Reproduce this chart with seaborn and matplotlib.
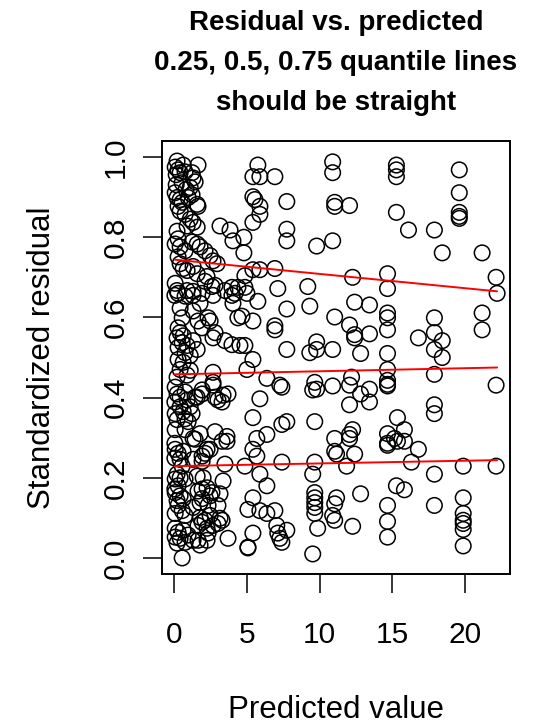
import numpy as np
import pandas as pd
import matplotlib
matplotlib.use("Agg")
import matplotlib.pyplot as plt
import seaborn as sns

# predicted value / standardized residual, read off the reference by region
# dense strip near zero, upper part
pred_a = [0.2, 0.07, 0.27, 0.41, 0.75, 1.23, 1.64, 1.3, 1.44, 1.1,
          0.07, 0.2, 0.41, 0.55, 0.27, 0.96, 1.58, 1.64, 1.23, 0.41,
          0.75, 1.1, 1.3, 1.58, 0.89, 0.2, 0.27, 0.07, 0.41, 0.75,
          1.23, 1.58, 1.78, 2.12, 2.47, 2.95, 0.27, 0.41, 0.62, 0.89,
          1.3, 1.58, 2.26, 2.12, 2.6, 0.07, 0.2, 0.89, 1.3, 0.62,
          0.14, 0.55, 0.14, 0.82,
          3.15, 3.84, 4.04, 4.79, 4.79, 2.67, 2.81, 3.97, 4.38, 4.86, 4.86]
res_a = [0.99, 0.975, 0.968, 0.961, 0.963, 0.961, 0.98, 0.948, 0.938, 0.924,
         0.911, 0.899, 0.894, 0.887, 0.877, 0.899, 0.882, 0.877, 0.906, 0.865,
         0.857, 0.845, 0.837, 0.825, 0.828, 0.815, 0.796, 0.783, 0.776, 0.766,
         0.788, 0.783, 0.776, 0.766, 0.754, 0.734, 0.751, 0.734, 0.722, 0.717,
         0.727, 0.709, 0.702, 0.69, 0.677, 0.685, 0.667, 0.667, 0.665, 0.98,
         0.956, 0.936, 0.931, 0.919,
         0.828, 0.818, 0.791, 0.8, 0.761, 0.741, 0.68, 0.675, 0.675, 0.675, 0.704]

# 4 < x < 11, upper half
pred_b = [5.75, 5.41, 5.89, 6.92, 5.41, 5.55, 5.89, 5.89, 5.41, 7.74,
          7.74, 7.74, 9.79, 10.89, 10.89, 10.89, 11.03, 11.03, 5.41, 5.89,
          6.92, 5.0, 5.75, 7.12, 9.18, 7.74, 9.32, 4.66, 5.41, 6.92,
          6.92, 11.03, 4.86, 7.74, 9.32, 9.79, 9.79, 10.89, 5.41]
res_b = [0.98, 0.951, 0.951, 0.951, 0.901, 0.894, 0.877, 0.857, 0.837, 0.889,
         0.82, 0.791, 0.778, 0.791, 0.988, 0.961, 0.887, 0.877, 0.719, 0.719,
         0.722, 0.66, 0.64, 0.672, 0.677, 0.621, 0.628, 0.603, 0.591, 0.579,
         0.569, 0.601, 0.53, 0.52, 0.512, 0.539, 0.52, 0.52, 0.495]

# 4 < x < 11, lower half
pred_c = [5.0, 6.37, 7.26, 7.4, 9.66, 9.79, 9.52, 10.89, 5.89, 5.41,
          7.4, 7.74, 9.66, 5.68, 6.37, 5.41, 5.68, 11.03, 11.03, 11.16,
          4.86, 7.4, 9.66, 9.52, 5.89, 6.37, 5.41, 5.07, 5.89, 6.37,
          6.92, 9.66, 9.66, 9.66, 9.66, 9.66, 7.05, 7.74, 5.41, 5.07,
          5.07, 7.26, 7.4, 9.86, 9.52]
res_c = [0.47, 0.448, 0.431, 0.426, 0.438, 0.421, 0.419, 0.429, 0.397, 0.35,
         0.333, 0.34, 0.34, 0.298, 0.308, 0.271, 0.254, 0.298, 0.266, 0.259,
         0.229, 0.239, 0.239, 0.209, 0.209, 0.18, 0.15, 0.121, 0.118, 0.111,
         0.118, 0.163, 0.15, 0.138, 0.126, 0.111, 0.081, 0.069, 0.062, 0.027,
         0.025, 0.049, 0.039, 0.074, 0.01]

# x > 11
pred_d = [12.05, 15.27, 15.27, 15.27, 19.59, 19.59, 19.59, 19.59, 19.59, 15.27,
          16.1, 17.88, 18.42, 21.16, 12.26, 14.66, 14.66, 22.12, 22.19,
          12.4, 13.42, 12.05, 14.66, 14.66, 14.66, 17.88, 21.16, 21.16, 12.4,
          12.4, 13.42, 16.78, 17.88, 18.42, 17.88, 18.42, 12.81, 14.66, 14.66,
          17.88, 12.19, 12.05, 14.66, 14.66, 14.66, 13.42, 12.81, 13.42, 12.05,
          22.12, 17.88, 17.88, 15.34, 12.26, 12.05, 14.66, 15.82,
          12.05, 12.4, 11.85, 14.66, 14.66, 15.34, 15.82, 15.14, 16.78, 16.3,
          17.88, 19.86, 22.12, 11.16, 11.03, 10.89, 11.03, 12.81, 12.26, 15.27,
          15.82, 14.66, 14.66, 14.66, 17.88, 19.86, 19.86, 19.86, 19.86, 19.86,
          19.86]
res_d = [0.879, 0.98, 0.968, 0.951, 0.968, 0.911, 0.862, 0.852, 0.847, 0.862,
         0.818, 0.818, 0.761, 0.761, 0.7, 0.709, 0.672, 0.7, 0.66,
         0.638, 0.631, 0.581, 0.611, 0.599, 0.569, 0.599, 0.611, 0.569, 0.557,
         0.549, 0.559, 0.549, 0.562, 0.542, 0.52, 0.5, 0.51, 0.51, 0.47,
         0.458, 0.451, 0.431, 0.443, 0.433, 0.429, 0.421, 0.409, 0.389, 0.382,
         0.431, 0.382, 0.36, 0.35, 0.32, 0.308, 0.31, 0.32,
         0.298, 0.259, 0.229, 0.286, 0.281, 0.291, 0.291, 0.298, 0.271, 0.239,
         0.209, 0.229, 0.229, 0.15, 0.135, 0.106, 0.094, 0.16, 0.079, 0.18,
         0.17, 0.131, 0.091, 0.052, 0.131, 0.15, 0.111, 0.094, 0.086, 0.071,
         0.03]

# dense strip near zero, middle part
pred_e = [2.67, 4.18, 4.04, 4.38, 2.33, 1.64, 1.92, 2.81, 2.67, 3.49,
          3.97, 2.67, 2.67, 3.7, 2.81, 3.29, 1.92, 1.58, 2.81, 3.63,
          0.05, 0.27, 0.75, 1.3, 1.92, 3.49, 3.97, 0.41, 0.55, 1.3,
          1.78, 2.47, 0.27, 0.41, 0.62, 0.2, 0.55, 0.89, 0.27, 0.75,
          1.3, 1.58, 1.1, 4.52, 0.27, 0.62, 0.41, 1.1, 0.89, 0.2,
          2.67, 1.92, 3.36, 3.01, 1.44, 0.07, 0.2, 0.05, 0.41, 0.75,
          0.89, 0.41, 1.1, 0.62, 0.07, 0.75, 1.23, 0.2, 0.96, 0.07,
          1.78]
res_e = [0.655, 0.66, 0.635, 0.599, 0.599, 0.591, 0.574, 0.562, 0.549, 0.542,
         0.532, 0.463, 0.438, 0.409, 0.401, 0.389, 0.409, 0.401, 0.315, 0.303,
         0.655, 0.66, 0.653, 0.655, 0.66, 0.667, 0.655, 0.623, 0.599, 0.616,
         0.635, 0.591, 0.574, 0.562, 0.554, 0.549, 0.537, 0.53, 0.525, 0.512,
         0.542, 0.52, 0.505, 0.53, 0.495, 0.488, 0.47, 0.468, 0.456, 0.451,
         0.431, 0.419, 0.406, 0.394, 0.401, 0.426, 0.409, 0.389, 0.401, 0.414,
         0.394, 0.377, 0.377, 0.365, 0.36, 0.347, 0.36, 0.345, 0.34, 0.32,
         0.31]

# dense strip near zero, lower part
pred_f = [0.75, 1.3, 2.26, 3.29, 3.63, 0.05, 0.07, 0.27, 0.62, 0.41,
          0.05, 0.55, 1.3, 1.92, 2.47, 3.49, 3.36, 3.15, 3.01, 0.2,
          0.41, 0.07, 0.75, 0.27, 0.05, 1.58, 1.99, 1.64, 2.26, 2.47,
          2.33, 1.78, 0.07, 0.41, 0.2, 0.62, 0.27, 0.55, 0.07, 0.75,
          1.3, 1.78, 1.92, 2.12, 2.47, 1.64, 2.26, 2.67, 3.15, 3.7,
          3.01, 0.07, 0.27, 0.62, 0.07, 0.41, 0.96, 0.2, 0.75, 1.3,
          1.78, 2.26, 0.55, 1.44, 2.12, 1.92, 2.6, 1.92, 1.92, 3.29,
          7.12, 2.33, 1.64]
res_f = [0.32, 0.298, 0.271, 0.291, 0.291, 0.286, 0.271, 0.261, 0.266, 0.246,
         0.249, 0.229, 0.246, 0.254, 0.271, 0.234, 0.192, 0.16, 0.131, 0.209,
         0.2, 0.197, 0.197, 0.18, 0.172, 0.204, 0.2, 0.167, 0.175, 0.155,
         0.131, 0.138, 0.163, 0.155, 0.143, 0.148, 0.131, 0.118, 0.111, 0.106,
         0.126, 0.101, 0.089, 0.094, 0.106, 0.081, 0.074, 0.081, 0.099, 0.049,
         0.086, 0.074, 0.064, 0.069, 0.052, 0.049, 0.057, 0.037, 0.039, 0.044,
         0.032, 0.044, 0.0, 0.296, 0.261, 0.241, 0.163, 0.172, 0.148, 0.094,
         0.062, 0.062, 0.044]

# fitted quantile lines (ends at min / max predicted)
q25 = [0.229, 0.244]
q50 = [0.458, 0.475]
q75 = [0.744, 0.665]

x_ticks = [0, 5, 10, 15, 20]
y_ticks = [0.0, 0.2, 0.4, 0.6, 0.8, 1.0]
y_tick_labels = ["0.0", "0.2", "0.4", "0.6", "0.8", "1.0"]

df = pd.DataFrame({
    "pred": pred_a + pred_b + pred_c + pred_d + pred_e + pred_f,
    "res": res_a + res_b + res_c + res_d + res_e + res_f,
})

sns.set_style("ticks")
plt.rcParams["font.family"] = ["Liberation Sans", "DejaVu Sans"]
plt.rcParams["text.color"] = "black"
plt.rcParams["axes.labelcolor"] = "black"

fig = plt.figure(figsize=(5.51, 7.25), dpi=100)
ax = fig.add_axes([0.294, 0.2083, 0.6316, 0.5972])

sns.scatterplot(data=df, x="pred", y="res", ax=ax, marker="o", s=125,
                facecolor="none", edgecolor="black", linewidth=1.1, zorder=2)

qx = [df["pred"].min(), df["pred"].max()]
for q in (q25, q50, q75):
    sns.lineplot(x=qx, y=q, ax=ax, color="red", lw=1.4, zorder=3)

# R style 4% padding
xmin, xmax = df["pred"].min(), df["pred"].max()
pad = 0.04 * (xmax - xmin)
ax.set_xlim(xmin - pad, xmax + pad)
ax.set_ylim(-0.04, 1.04)

ax.set_xticks(x_ticks)
ax.set_xticklabels([str(t) for t in x_ticks])
ax.set_yticks(y_ticks)
ax.set_yticklabels(y_tick_labels, rotation=90, va="center")
ax.tick_params(axis="x", length=14, width=1.1, pad=20, labelsize=21.5,
               color="black", labelcolor="black")
ax.tick_params(axis="y", length=14, width=1.1, pad=9, labelsize=21.5,
               color="black", labelcolor="black")

for sp in ax.spines.values():
    sp.set_visible(True)
    sp.set_linewidth(1.4)
    sp.set_color("black")

ax.set_xlabel("Predicted value", fontsize=22.5)
ax.set_ylabel("Standardized residual", fontsize=22.5)
ax.xaxis.set_label_coords(0.5, -0.314)
ax.xaxis.label.set_va("center")
ax.yaxis.set_label_coords(-0.345, 0.5)
ax.yaxis.label.set_va("center")

fig.text(336 / 551, 1 - 10 / 725,
         "Residual vs. predicted\n0.25, 0.5, 0.75 quantile lines\nshould be straight",
         ha="center", va="top", fontsize=20, fontweight="bold", linespacing=1.7)

fig.savefig("out.png", dpi=100)
